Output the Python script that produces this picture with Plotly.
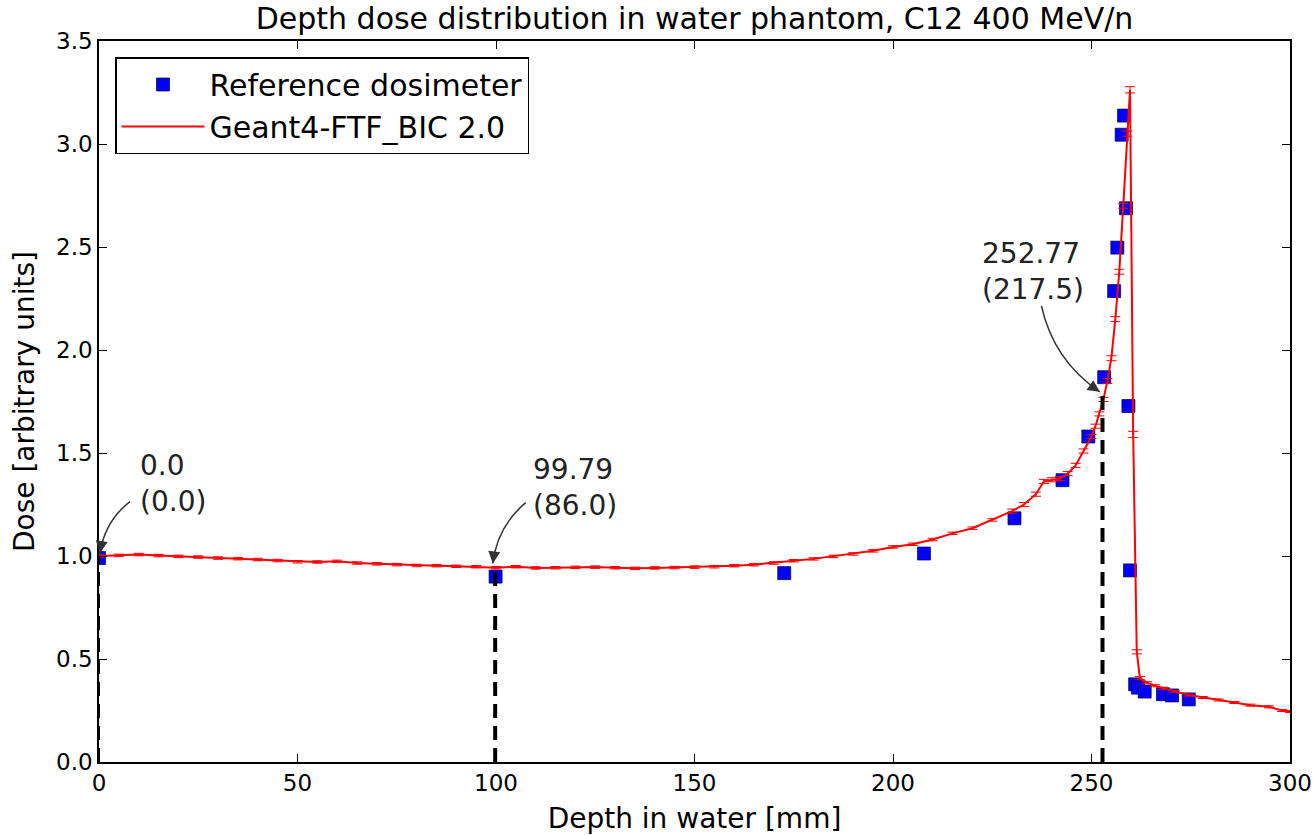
import plotly.graph_objects as go

# ---------------- data ----------------
mc_depth = [0, 5, 10, 15, 20, 25, 30, 35, 40, 45, 50, 55, 60, 65, 70, 75, 80, 85, 90, 95,
            100, 105, 110, 115, 120, 125, 130, 135, 140, 145, 150, 155, 160, 165, 170, 175,
            180, 185, 190, 195, 200, 205, 210, 215, 220, 225, 230, 233, 236, 238, 240, 242,
            244, 246, 248, 250, 251, 252, 253, 254, 255, 256, 257, 258, 259, 259.7, 260.5,
            261.4, 262.2, 264, 266, 268, 271, 274.5, 278, 282, 286, 290, 294.7, 298, 300]
mc_dose = [1.000, 1.003, 1.007, 1.002, 0.998, 0.995, 0.990, 0.987, 0.983, 0.978, 0.972, 0.971,
           0.974, 0.966, 0.962, 0.958, 0.954, 0.953, 0.950, 0.948, 0.943, 0.948, 0.942, 0.943,
           0.945, 0.946, 0.943, 0.940, 0.942, 0.944, 0.946, 0.948, 0.953, 0.958, 0.966, 0.977,
           0.986, 0.998, 1.010, 1.025, 1.044, 1.057, 1.080, 1.110, 1.135, 1.175, 1.218, 1.250,
           1.300, 1.362, 1.370, 1.376, 1.400, 1.440, 1.510, 1.580, 1.630, 1.690, 1.760, 1.850,
           1.960, 2.150, 2.380, 2.700, 3.050, 3.263, 1.590, 0.535, 0.407, 0.385, 0.370, 0.358,
           0.343, 0.325, 0.313, 0.301, 0.289, 0.276, 0.268, 0.250, 0.245]
mc_err = [0.006] * 46 + [0.010] * 13 + [0.012] * 6 + [0.015, 0.015, 0.010, 0.008] + [0.005] * 12

ref_depth = [0.0, 99.9, 172.6, 207.8, 230.6, 242.7, 249.2, 253.2, 255.7, 256.5, 257.6,
             258.2, 258.7, 259.3, 259.7, 261.0, 261.7, 263.4, 268.0, 270.3, 274.5]
ref_dose = [0.99, 0.90, 0.917, 1.012, 1.183, 1.368, 1.580, 1.868, 2.286, 2.497, 3.045,
            3.138, 2.688, 1.728, 0.930, 0.377, 0.361, 0.342, 0.329, 0.323, 0.304]

# annotated depths: depth [mm], water-equivalent value, dose at depth
mark_depth = [0.0, 99.79, 252.77]
mark_weq = [0.0, 86.0, 217.5]
mark_dose = [1.0, 0.94, 1.78]

x_ticks = [0, 50, 100, 150, 200, 250, 300]
y_ticks = [0.0, 0.5, 1.0, 1.5, 2.0, 2.5, 3.0, 3.5]

# ---------------- layout constants ----------------
W, H = 1314, 835
L, R, T, B = 99, 24, 41, 73
X0, X1 = 0, 300
Y0, Y1 = 0, 3.5
label_pos = [(9.8, 1.53), (108.8, 1.51), (221.8, 2.556)]
arrow_tail = [(7.8, 1.264), (107.5, 1.259), (237.4, 2.214)]
arrow_head = [(0.25, 1.014), (99.2, 0.964), (252.1, 1.797)]
FONT = "DejaVu Sans"

pw, ph = W - L - R, H - T - B


def to_px(x, y):
    return L + (x - X0) / (X1 - X0) * pw, T + (Y1 - y) / (Y1 - Y0) * ph


def to_data(px, py):
    return X0 + (px - L) / pw * (X1 - X0), Y1 - (py - T) / ph * (Y1 - Y0)


fig = go.Figure()

fig.add_trace(go.Scatter(
    x=ref_depth, y=ref_dose, mode="markers", name="Reference dosimeter",
    marker=dict(symbol="square", size=13, color="#0000ff",
                line=dict(color="#000033", width=0.7)),
))
fig.add_trace(go.Scatter(
    x=mc_depth, y=mc_dose, mode="lines", name="Geant4-FTF_BIC 2.0",
    line=dict(color="#ff0000", width=2),
    error_y=dict(type="data", array=mc_err, color="#ff0000", thickness=1, width=5),
))

shapes = []
annotations = []
for d, w, dose, (lx, ly), tail, head in zip(mark_depth, mark_weq, mark_dose,
                                             label_pos, arrow_tail, arrow_head):
    shapes.append(dict(type="line", xref="x", yref="y", x0=d, x1=d, y0=0, y1=dose,
                       line=dict(color="black", width=4 if d > 0 else 2,
                                 dash="14px,8px")))
    annotations.append(dict(x=lx, y=ly, xref="x", yref="y", text=f"{d}<br>({w})",
                            showarrow=False, xanchor="left", yanchor="top", align="left",
                            font=dict(family=FONT, size=28, color="#222222")))
    # curved arrow (arc) from label to point
    tx, ty = to_px(*tail)
    hx, hy = to_px(*head)
    dx, dy = hx - tx, hy - ty
    rad = 0.2
    cx, cy = (tx + hx) / 2 - rad * dy, (ty + hy) / 2 + rad * dx
    cdx, cdy = to_data(cx, cy)
    shapes.append(dict(type="path", xref="x", yref="y",
                       path=f"M {tail[0]},{tail[1]} Q {cdx},{cdy} {head[0]},{head[1]}",
                       line=dict(color="#333333", width=1.5)))
    ux, uy = cx - hx, cy - hy
    n = (ux ** 2 + uy ** 2) ** 0.5
    annotations.append(dict(x=head[0], y=head[1], xref="x", yref="y", text="",
                            showarrow=True, ax=ux / n * 10, ay=uy / n * 10,
                            arrowhead=2, arrowsize=1.6, arrowwidth=1.5,
                            arrowcolor="#333333"))

axis_common = dict(showgrid=False, zeroline=False, showline=True, linecolor="black",
                   linewidth=1.5, mirror="ticks", ticks="inside", ticklen=8,
                   tickwidth=1, tickcolor="black", automargin=False,
                   tickfont=dict(family=FONT, size=23, color="black"))

fig.update_layout(
    width=W, height=H,
    margin=dict(l=L, r=R, t=T, b=B, autoexpand=False),
    paper_bgcolor="white", plot_bgcolor="white",
    title=dict(text="Depth dose distribution in water phantom, C12 400 MeV/n",
               x=694.5 / W, xanchor="center", y=1 - 18 / H, yanchor="middle",
               font=dict(family=FONT, size=30, color="black")),
    xaxis=dict(range=[X0, X1], tickvals=x_ticks, ticktext=[str(v) for v in x_ticks],
               title=dict(text="Depth in water [mm]", standoff=14,
                          font=dict(family=FONT, size=28, color="black")),
               **axis_common),
    yaxis=dict(range=[Y0, Y1], tickvals=y_ticks, ticktext=[f"{v:.1f}" for v in y_ticks],
               title=dict(text="Dose [arbitrary units]", standoff=13,
                          font=dict(family=FONT, size=28, color="black")),
               **axis_common),
    legend=dict(x=(115 - L) / pw, y=1 - (57 - T) / ph, xanchor="left", yanchor="top",
                bgcolor="white", bordercolor="black", borderwidth=1.5,
                font=dict(family=FONT, size=30, color="black"),
                itemwidth=83, tracegroupgap=0),
    shapes=shapes,
    annotations=annotations,
    showlegend=True,
)

fig.write_html("out.html")
